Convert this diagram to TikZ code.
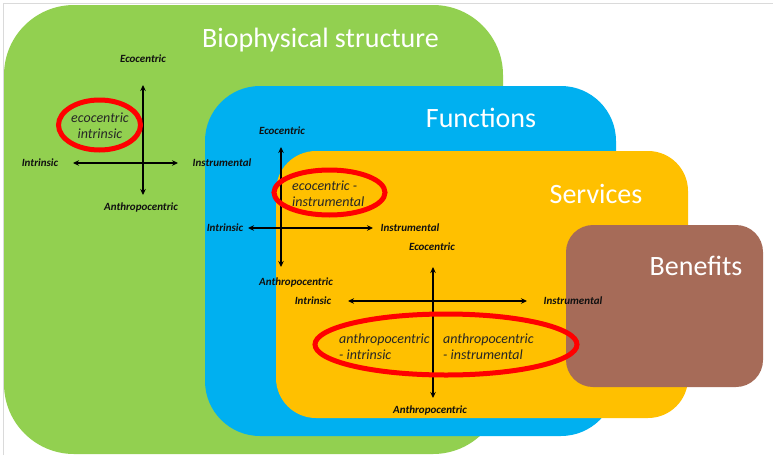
\documentclass[tikz,border=0pt]{standalone}
\usepackage{fontspec}
\setmainfont{Carlito}
\usetikzlibrary{arrows.meta}
\definecolor{bpgreen}{HTML}{92D050}
\definecolor{fnblue}{HTML}{00B0F0}
\definecolor{svorange}{HTML}{FFC000}
\definecolor{bnbrown}{HTML}{A66B58}
\definecolor{framegray}{HTML}{DADADA}
\definecolor{ovaltext}{HTML}{262626}
\definecolor{lbltext}{HTML}{101010}
\begin{document}
\begin{tikzpicture}[x=1pt,y=-1pt,
  title/.style={text=white, font=\fontsize{28}{32}\selectfont, inner sep=0, anchor=base},
  axislbl/.style={font=\fontsize{11}{13}\selectfont\bfseries\itshape, text=lbltext, inner sep=0},
  axisline/.style={line width=1.6pt, draw=black, {Stealth[length=6pt,width=5.5pt]}-{Stealth[length=6pt,width=5.5pt]}},
  oval/.style={draw=red, line width=5pt},
  ovaltxt/.style={font=\fontsize{14}{16}\selectfont\itshape, text=ovaltext, inner sep=0},
]
\useasboundingbox (0,0) rectangle (773,455);
% slide frame
\draw[framegray, line width=1.2pt] (3.5,455) -- (3.5,3.5) -- (773,3.5);
% nested boxes
\fill[bpgreen, rounded corners=70pt] (4,5) rectangle (503,454);
\fill[fnblue, rounded corners=55pt] (205,86) rectangle (616,436);
\fill[svorange, rounded corners=40pt] (276,151) rectangle (688,418);
\fill[bnbrown, rounded corners=27pt] (566,225) rectangle (763,387);
% titles
\node[title] (tbio) at (320.5,47) {Biophysical structure};
\node[title] (tfun) at (481,127) {Functions};
\node[title] (tser) at (596,203) {Services};
\node[title] (tben) at (696,275) {Benefits};

% ---- axes 1 (biophysical structure)
\coordinate (a1n) at (143,85);
\coordinate (a1s) at (143,195);
\coordinate (a1w) at (73,163);
\coordinate (a1e) at (178,163);
\draw[axisline] (a1s) -- (a1n);
\draw[axisline] (a1w) -- (a1e);
\node[axislbl] (l1n) at (143,59) {Ecocentric};
\node[axislbl] (l1s) at (141,207.5) {Anthropocentric};
\node[axislbl] (l1w) at (40,163) {Intrinsic};
\node[axislbl] (l1e) at (222,163) {Instrumental};

% ---- axes 2 (functions)
\coordinate (a2n) at (281,147);
\coordinate (a2s) at (281,267);
\coordinate (a2w) at (248,228);
\coordinate (a2e) at (373,228);
\draw[axisline] (a2s) -- (a2n);
\draw[axisline] (a2w) -- (a2e);
\node[axislbl] (l2n) at (282,131) {Ecocentric};
\node[axislbl] (l2s) at (296,282.5) {Anthropocentric};
\node[axislbl] (l2w) at (225,228) {Intrinsic};
\node[axislbl] (l2e) at (410,228) {Instrumental};

% ---- axes 3 (services)
\coordinate (a3n) at (433,267);
\coordinate (a3s) at (433,398);
\coordinate (a3w) at (348,301);
\coordinate (a3e) at (527,301);
\draw[axisline] (a3s) -- (a3n);
\draw[axisline] (a3w) -- (a3e);
\node[axislbl] (l3n) at (432,247) {Ecocentric};
\node[axislbl] (l3s) at (430,410.5) {Anthropocentric};
\node[axislbl] (l3w) at (313,301) {Intrinsic};
\node[axislbl] (l3e) at (573,301) {Instrumental};

% ---- ovals
\draw[oval] (99.5,125) ellipse [x radius=41, y radius=25];
\node[ovaltxt, align=center] (o1) at (100,126) {ecocentric\\intrinsic};

\draw[oval] (329.5,192.5) ellipse [x radius=55.5, y radius=22.5];
\node[ovaltxt, align=left, anchor=west] (o2) at (292,194) {ecocentric -\\instrumental};

\draw[oval] (446,344.5) ellipse [x radius=131, y radius=30.5];
\node[ovaltxt, align=left, anchor=west] (o3a) at (339,347) {anthropocentric\\- intrinsic};
\node[ovaltxt, align=left, anchor=west] (o3b) at (443,347) {anthropocentric\\- instrumental};
\end{tikzpicture}
\end{document}
